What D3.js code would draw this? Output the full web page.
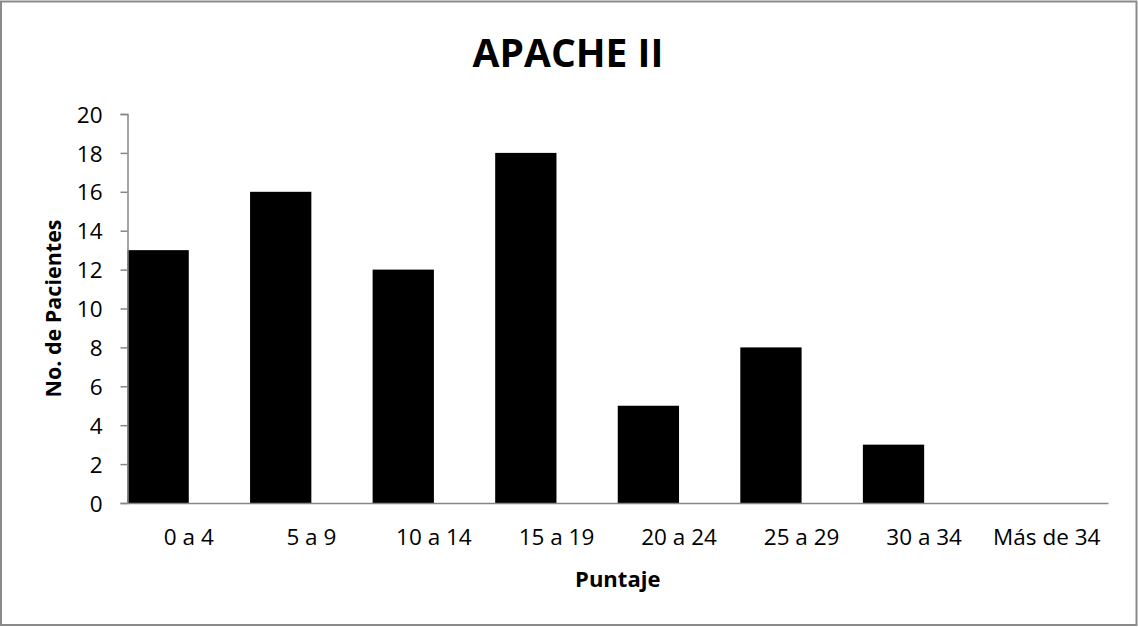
<!DOCTYPE html>
<html>
<head>
<meta charset="utf-8">
<script src="https://cdn.jsdelivr.net/npm/d3@7"></script>
<style>
html,body{margin:0;padding:0;background:#fff;}
svg{display:block;}
text{font-family:"Open Sans",sans-serif;fill:#000;}
</style>
</head>
<body>
<svg id="chart" width="1138" height="627"></svg>
<script>
const categories = ["0 a 4","5 a 9","10 a 14","15 a 19","20 a 24","25 a 29","30 a 34","Más de 34"];
const pacientes = [13,16,12,18,5,8,3,0];
const yTicks = [0,2,4,6,8,10,12,14,16,18,20];
const title = "APACHE II";
const xTitle = "Puntaje";
const yTitle = "No. de Pacientes";

(function(){
const svg = d3.select("#chart");
const pL = 127.5, pR = 1108, pT = 114, pB = 503;

svg.append("rect").attr("x",1).attr("y",1.5).attr("width",1135.5).attr("height",623.5)
  .attr("fill","#fff").attr("stroke","#8a8a8a").attr("stroke-width",2);

const x = d3.scaleBand().domain(categories).range([pL,pR]).paddingInner(0).paddingOuter(0);
const y = d3.scaleLinear().domain([0,20]).range([pB,pT]);

// bars: occupy the left half of each band
svg.append("g").selectAll("rect").data(categories).join("rect")
  .attr("x",(d)=>x(d))
  .attr("width",x.bandwidth()/2)
  .attr("y",(d,i)=>y(pacientes[i]))
  .attr("height",(d,i)=>pB - y(pacientes[i]))
  .attr("fill","#000");

// y axis
const yAxis = d3.axisLeft(y).tickValues(yTicks).tickSize(7).tickPadding(18).tickFormat(d3.format("d"));
const gy = svg.append("g").attr("transform",`translate(${pL},0)`).call(yAxis);
gy.select(".domain").attr("stroke","#868686").attr("stroke-width",1.5);
gy.selectAll(".tick line").attr("stroke","#868686").attr("stroke-width",1.5);
gy.selectAll(".tick text").style("font-family","'Open Sans',sans-serif").style("font-size","22.5px").attr("fill","#000").attr("dy","0.36em");

// x axis
const xAxis = d3.axisBottom(x).tickSize(0).tickPadding(26);
const gx = svg.append("g").attr("transform",`translate(0,${pB})`).call(xAxis);
gx.select(".domain").attr("stroke","#868686").attr("stroke-width",1.5);
gx.selectAll(".tick text").style("font-family","'Open Sans',sans-serif").style("font-size","22.5px").attr("fill","#000");

// titles
svg.append("text").attr("x",568).attr("y",67).attr("text-anchor","middle")
  .style("font-size","39px").style("font-weight","bold").text(title);
svg.append("text").attr("x",(pL+pR)/2).attr("y",587).attr("text-anchor","middle")
  .style("font-size","22px").style("font-weight","bold").text(xTitle);
svg.append("text").attr("transform",`translate(61,${(pT+pB)/2}) rotate(-90)`).attr("text-anchor","middle")
  .style("font-size","21.5px").style("font-weight","bold").text(yTitle);
})();
</script>
</body>
</html>
